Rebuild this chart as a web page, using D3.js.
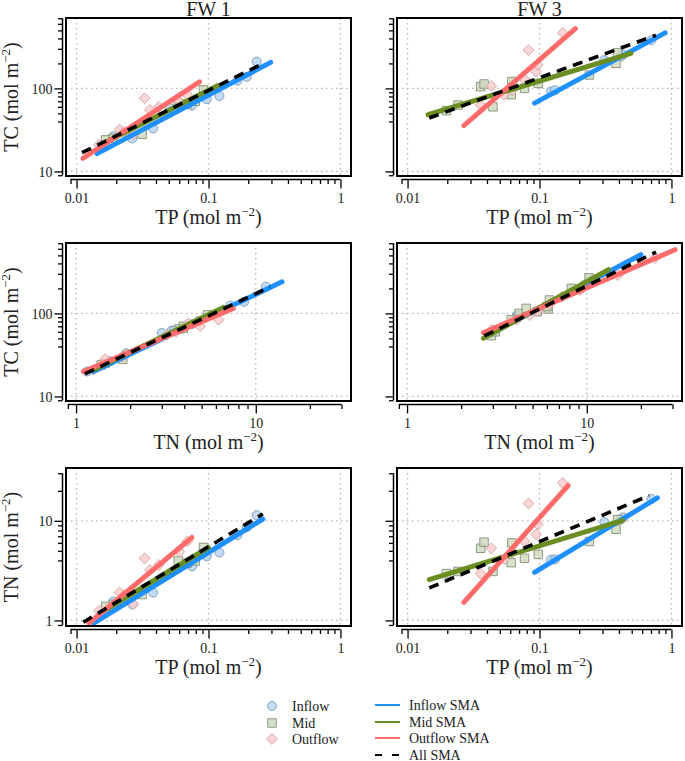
<!DOCTYPE html>
<html><head><meta charset="utf-8">
<script src="https://cdn.jsdelivr.net/npm/d3@7"></script>
<style>body{margin:0;background:#fff}</style>
</head><body><svg id="c" width="685" height="761"></svg>
<script>
// ---------- DATA ----------
const sites = ["FW 1", "FW 3"];
const groups = ["Inflow", "Mid", "Outflow"];

// FW 1
const fw1InflowTP  = [0.0155, 0.019, 0.0264, 0.038, 0.051, 0.06, 0.075, 0.097, 0.121, 0.166, 0.195, 0.232];
const fw1InflowTC  = [20, 26.5, 25, 33, 58, 62, 62, 74, 81, 124, 138, 210];
const fw1InflowTN  = [1.15, 1.55, 1.45, 1.9, 3.0, 3.4, 3.5, 4.4, 4.8, 7.2, 8.6, 11.4];
const fw1MidTP     = [0.0166, 0.019, 0.0314, 0.059, 0.0687, 0.0794, 0.0917];
const fw1MidTC     = [24, 25, 28, 66, 65, 70, 96];
const fw1MidTN     = [1.38, 1.45, 1.82, 3.95, 3.74, 3.95, 5.4];
const fw1OutflowTP = [0.0148, 0.0212, 0.023, 0.027, 0.0328, 0.036, 0.042, 0.06, 0.069];
const fw1OutflowTC = [21, 32, 30, 28, 76, 55, 60, 70, 84];
const fw1OutflowTN = [1.25, 1.9, 1.8, 1.45, 4.2, 3.2, 3.6, 4.9, 6.2];

// FW 3
const fw3InflowTP  = [0.1225, 0.131, 0.31, 0.41, 0.43, 0.706];
const fw3InflowTC  = [92, 95, 219, 240, 255, 381];
const fw3InflowTN  = [4.07, 4.1, 9.7, 10.3, 10.8, 16.6];
const fw3MidTP     = [0.0197, 0.0241, 0.0358, 0.038, 0.0444, 0.0617, 0.061, 0.077, 0.098, 0.239, 0.38, 0.391];
const fw3MidTC     = [54, 63, 105, 113, 60, 121, 84, 100, 115, 145, 200, 268];
const fw3MidTN     = [2.95, 3.1, 5.3, 6.1, 3.1, 6.0, 3.8, 4.2, 4.6, 6.2, 8.2, 10.3];
const fw3OutflowTP = [0.0358, 0.0431, 0.054, 0.062, 0.077, 0.0944, 0.097, 0.0826, 0.150];
const fw3OutflowTC = [63, 107, 84, 95, 129, 159, 191, 289, 466];
const fw3OutflowTN = [2.95, 5.3, 4.1, 4.8, 6.2, 7.3, 9.2, 14.9, 24];

// SMA fitted lines: [x0, y0, x1, y1] in order Inflow, Mid, Outflow, All
const fw1TcTpSma = [[0.0143, 16.4, 0.296, 206], [0.0166, 22.5, 0.117, 108], [0.0112, 14.4, 0.0855, 120], [0.011, 16.8, 0.26, 200]];
const fw3TcTpSma = [[0.0917, 66.5, 0.895, 466], [0.0143, 48.2, 0.493, 264], [0.0267, 35.6, 0.187, 526], [0.0146, 44, 0.762, 437]];
const fw1TcTnSma = [[1.25, 20, 14, 240], [1.25, 21, 6.6, 118], [1.1, 20, 7.5, 115], [1.12, 18.7, 12, 208]];
const fw3TcTnSma = [[2.8, 54, 20, 509], [2.66, 50, 13.2, 337], [2.66, 58.5, 31, 585], [2.69, 53.5, 24.3, 548]];
const fw1TnTpSma = [[0.0135, 0.94, 0.258, 10.4], [0.0166, 1.28, 0.1, 5.4], [0.0124, 0.94, 0.075, 6.8], [0.01125, 0.96, 0.258, 11.7]];
const fw3TnTpSma = [[0.0917, 3.04, 0.783, 17], [0.0146, 2.57, 0.428, 10.1], [0.0267, 1.52, 0.165, 22.6], [0.0146, 2.12, 0.678, 17.9]];

// Axis ticks
const tpMajor = [0.01, 0.1, 1];
const tpMinor = [0.009, 0.02, 0.03, 0.04, 0.05, 0.06, 0.07, 0.08, 0.09, 0.2, 0.3, 0.4, 0.5, 0.6, 0.7, 0.8, 0.9];
const tnXMajor = [1, 10];
const tnXMinor = [0.9, 2, 3, 4, 5, 6, 7, 8, 9, 20, 30];
const tcYMajor = [10, 100];
const tcYMinor = [9, 40, 50, 60, 70, 80, 90, 200, 300, 400, 500, 600, 700];
const tnYMajor = [1, 10];
const tnYMinor = [0.9, 4, 5, 6, 7, 8, 9, 20, 30];

// ---------- BUILD ----------
const siteData = {
  "FW 1": {Inflow: {TP: fw1InflowTP, TC: fw1InflowTC, TN: fw1InflowTN},
           Mid: {TP: fw1MidTP, TC: fw1MidTC, TN: fw1MidTN},
           Outflow: {TP: fw1OutflowTP, TC: fw1OutflowTC, TN: fw1OutflowTN}},
  "FW 3": {Inflow: {TP: fw3InflowTP, TC: fw3InflowTC, TN: fw3InflowTN},
           Mid: {TP: fw3MidTP, TC: fw3MidTC, TN: fw3MidTN},
           Outflow: {TP: fw3OutflowTP, TC: fw3OutflowTC, TN: fw3OutflowTN}}
};
const smaFor = {
  "FW 1|TC|TP": fw1TcTpSma, "FW 3|TC|TP": fw3TcTpSma,
  "FW 1|TC|TN": fw1TcTnSma, "FW 3|TC|TN": fw3TcTnSma,
  "FW 1|TN|TP": fw1TnTpSma, "FW 3|TN|TP": fw3TnTpSma
};

const FONT = "'Liberation Serif','Times New Roman',serif";
const svg = d3.select("#c").style("font-family", FONT);
const colLeft = [66, 397], rowTop = [18, 243, 468], PW = 285, PH = 158;
const logDom = {TP: [-2.08, 0.08], TN: [-0.056, 1.53], TC: [0.945, 2.848]};
const rowsDef = [{y: "TC", x: "TP"}, {y: "TC", x: "TN"}, {y: "TN", x: "TP"}];

const lineColors = ["#1E90FF", "#6B8E23", "#FF6A6A", "#000"];
const ptStyle = {
  Inflow: {fill: "rgba(180,211,242,0.8)", stroke: "#7f98b5"},
  Mid: {fill: "rgba(205,217,188,0.8)", stroke: "#84907a"},
  Outflow: {fill: "rgba(249,204,204,0.8)", stroke: "#d4a3a3"}
};
const symFor = {
  Inflow: d3.symbol(d3.symbolCircle, 64),
  Mid: d3.symbol(d3.symbolSquare, 72),
  Outflow: d3.symbol(d3.symbolSquare, 58)
};

function unitTitle(sel, name) {
  sel.append("tspan").text(name + " (mol m");
  sel.append("tspan").attr("font-size", 13).attr("dy", -8).text("\u22122");
  sel.append("tspan").attr("dy", 8).text(")");
}

sites.forEach((site, ci) => {
  rowsDef.forEach((rd, ri) => {
    const L = colLeft[ci], T = rowTop[ri], B = T + PH, R = L + PW;
    const xs = d3.scaleLog().domain(logDom[rd.x].map(v => Math.pow(10, v))).range([L, R]);
    const ys = d3.scaleLog().domain(logDom[rd.y].map(v => Math.pow(10, v))).range([B, T]);
    const g = svg.append("g");
    const xMaj = rd.x === "TP" ? tpMajor : tnXMajor;
    const xMin = rd.x === "TP" ? tpMinor : tnXMinor;
    const yMaj = rd.y === "TC" ? tcYMajor : tnYMajor;
    const yMin = rd.y === "TC" ? tcYMinor : tnYMinor;

    // grid
    g.selectAll(".gx").data(xMaj).join("line")
      .attr("x1", d => xs(d)).attr("x2", d => xs(d)).attr("y1", T).attr("y2", B)
      .attr("stroke", "#b4b4b4").attr("stroke-width", 1.3).attr("stroke-dasharray", "1.5,3.5");
    g.selectAll(".gy").data(yMaj).join("line")
      .attr("y1", d => ys(d)).attr("y2", d => ys(d)).attr("x1", L).attr("x2", R)
      .attr("stroke", "#b4b4b4").attr("stroke-width", 1.3).attr("stroke-dasharray", "1.5,3.5");

    // points
    groups.forEach(gr => {
      const d = siteData[site][gr];
      const pts = d[rd.x].map((xv, i) => [xv, d[rd.y][i]]);
      g.selectAll(null).data(pts).join("path")
        .attr("d", symFor[gr])
        .attr("transform", p => `translate(${xs(p[0])},${ys(p[1])})` + (gr === "Outflow" ? " rotate(45)" : ""))
        .attr("fill", ptStyle[gr].fill).attr("stroke", ptStyle[gr].stroke).attr("stroke-width", 0.9);
    });

    // SMA lines
    const sma = smaFor[site + "|" + rd.y + "|" + rd.x];
    const ln = d3.line().x(p => xs(p[0])).y(p => ys(p[1]));
    sma.forEach((s, k) => {
      const path = g.append("path").attr("d", ln([[s[0], s[1]], [s[2], s[3]]]))
        .attr("fill", "none").attr("stroke", lineColors[k]);
      if (k < 3) path.attr("stroke-width", 5).attr("stroke-linecap", "round");
      else path.attr("stroke-width", 3.6).attr("stroke-dasharray", "10,7");
    });

    // box
    g.append("rect").attr("x", L).attr("y", T).attr("width", PW).attr("height", PH)
      .attr("fill", "none").attr("stroke", "#000").attr("stroke-width", 2);

    // x axis
    const axY = B + 3.5;
    const xAll = xMaj.concat(xMin);
    g.append("line").attr("x1", xs(d3.min(xAll))).attr("x2", xs(d3.max(xAll)))
      .attr("y1", axY).attr("y2", axY).attr("stroke", "#000").attr("stroke-width", 1.5);
    const xMinG = g.append("g").attr("transform", `translate(0,${axY})`)
      .call(d3.axisBottom(xs).tickValues(xMin).tickSize(4.5).tickFormat(""));
    const xMajG = g.append("g").attr("transform", `translate(0,${axY})`)
      .call(d3.axisBottom(xs).tickValues(xMaj).tickSize(9).tickFormat(d3.format("~g")));
    [xMinG, xMajG].forEach(a => {
      a.select(".domain").remove();
      a.selectAll("line").attr("stroke", "#000").attr("stroke-width", 1.3);
    });
    xMajG.selectAll("text").attr("y", 23.5).attr("dy", null)
      .attr("font-size", 14).attr("font-family", FONT).attr("fill", "#222");

    // y axis
    const axX = L - 3.5;
    const yAll = yMaj.concat(yMin);
    g.append("line").attr("y1", ys(d3.min(yAll))).attr("y2", ys(d3.max(yAll)))
      .attr("x1", axX).attr("x2", axX).attr("stroke", "#000").attr("stroke-width", 1.5);
    const yMinG = g.append("g").attr("transform", `translate(${axX},0)`)
      .call(d3.axisLeft(ys).tickValues(yMin).tickSize(4.5).tickFormat(""));
    const yMajG = g.append("g").attr("transform", `translate(${axX},0)`)
      .call(d3.axisLeft(ys).tickValues(yMaj).tickSize(8)
        .tickFormat(ci === 0 ? d3.format("~g") : ""));
    [yMinG, yMajG].forEach(a => {
      a.select(".domain").remove();
      a.selectAll("line").attr("stroke", "#000").attr("stroke-width", 1.3);
    });
    yMajG.selectAll("text").attr("x", -10).attr("dy", "0.35em")
      .attr("font-size", 14).attr("font-family", FONT).attr("fill", "#222");

    // axis titles
    const xt = g.append("text").attr("x", (L + R) / 2).attr("y", B + 48)
      .attr("text-anchor", "middle").attr("font-size", 20).attr("fill", "#222");
    unitTitle(xt, rd.x);
    if (ci === 0) {
      const yt = g.append("text").attr("transform", `translate(18,${(T + B) / 2}) rotate(-90)`)
        .attr("text-anchor", "middle").attr("font-size", 20).attr("fill", "#222");
      unitTitle(yt, rd.y);
    }
    if (ri === 0) {
      g.append("text").attr("x", (L + R) / 2).attr("y", 15.5).attr("text-anchor", "middle")
        .attr("font-size", 20).attr("fill", "#222").text(site);
    }
  });
});

// ---------- LEGEND ----------
const lg = svg.append("g");
const ptRows = [706, 723, 739];
groups.forEach((gr, i) => {
  lg.append("path").attr("d", symFor[gr])
    .attr("transform", `translate(272,${ptRows[i]})` + (gr === "Outflow" ? " rotate(45)" : ""))
    .attr("fill", ptStyle[gr].fill).attr("stroke", ptStyle[gr].stroke).attr("stroke-width", 0.9);
  lg.append("text").attr("x", 292).attr("y", ptRows[i] + 5).attr("font-size", 14)
    .attr("fill", "#222").text(gr);
});
const lineLabels = ["Inflow SMA", "Mid SMA", "Outflow SMA", "All SMA"];
const lnRows = [705, 722, 738, 755];
lineLabels.forEach((lab, i) => {
  const l = lg.append("line").attr("x1", 375).attr("x2", 400).attr("y1", lnRows[i]).attr("y2", lnRows[i])
    .attr("stroke", lineColors[i]).attr("stroke-width", 2);
  if (i === 3) l.attr("stroke-dasharray", "7,10");
  lg.append("text").attr("x", 409).attr("y", lnRows[i] + 5).attr("font-size", 14)
    .attr("fill", "#222").text(lab);
});
</script>
</body></html>
